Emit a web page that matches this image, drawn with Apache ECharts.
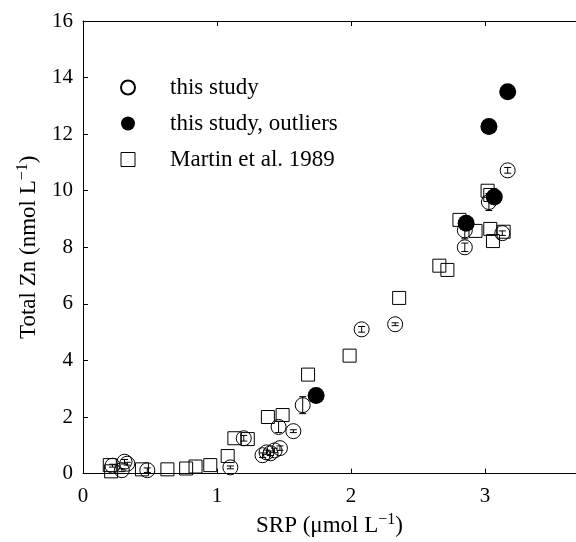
<!DOCTYPE html>
<html>
<head>
<meta charset="utf-8">
<script src="https://cdn.jsdelivr.net/npm/echarts@6/dist/echarts.min.js"></script>
<style>html,body{margin:0;padding:0;background:#fff}#c{width:576px;height:542px}</style>
</head>
<body>
<div id="c"></div>
<script>
// this study (open circles) with error values
var studyX   = [0.22, 0.29, 0.31, 0.33, 0.48, 1.10, 1.20, 1.34, 1.37, 1.40, 1.43, 1.47, 1.46, 1.57, 1.64, 2.08, 2.33, 2.85, 2.85, 3.03, 3.13, 3.17];
var studyY   = [0.28, 0.12, 0.42, 0.35, 0.12, 0.22, 1.25, 0.65, 0.75, 0.72, 0.82, 0.90, 1.65, 1.50, 2.42, 5.10, 5.28, 8.00, 8.60, 9.60, 8.50, 10.72];
var studyErr = [0.05, 0.05, 0.08, 0.05, 0.08, 0.05, 0.10, 0.08, 0.08, 0.08, 0.08, 0.08, 0.20, 0.05, 0.30, 0.10, 0.05, 0.15, 0.30, 0.30, 0.08, 0.10];
// this study, outliers (filled circles)
var outX = [1.74, 2.86, 3.03, 3.07, 3.17];
var outY = [2.76, 8.85, 12.27, 9.78, 13.50];
// Martin et al. 1989 (squares)
var martinX = [0.20, 0.21, 0.44, 0.63, 0.77, 0.84, 0.95, 1.08, 1.13, 1.23, 1.38, 1.49, 1.68, 1.99, 2.36, 2.66, 2.72, 2.81, 2.93, 3.02, 3.04, 3.04, 3.06, 3.14];
var martinY = [0.30, 0.08, 0.15, 0.15, 0.18, 0.25, 0.30, 0.62, 1.25, 1.22, 2.00, 2.07, 3.50, 4.17, 6.21, 7.35, 7.20, 8.97, 8.58, 10.00, 9.85, 8.65, 8.22, 8.55];
var xRange = [0, 3.68];   // visible part of the x axis (figure is cropped at the right)
var yTicks = [0, 2, 4, 6, 8, 10, 12, 14, 16];

function zip() {
  var a = arguments, out = [];
  for (var i = 0; i < a[0].length; i++) {
    var row = [];
    for (var j = 0; j < a.length; j++) row.push(a[j][i]);
    out.push(row);
  }
  return out;
}

var FONT = 'Liberation Serif';
var chart = echarts.init(document.getElementById('c'), null, {renderer: 'canvas'});
var axisCommon = {
  axisLine: {show: true, lineStyle: {color: '#000', width: 1}},
  axisTick: {show: true, inside: true, length: 5, lineStyle: {color: '#000'}},
  splitLine: {show: false}
};
var rich = {
  n: {fontFamily: FONT, fontSize: 23, color: '#000'},
  s: {fontFamily: FONT, fontSize: 16, color: '#000', verticalAlign: 'top', padding: [0, 0, 12, 0]}
};
chart.setOption({
  animation: false,
  backgroundColor: '#fff',
  grid: {left: 83, right: 0, top: 21, bottom: 64, containLabel: false},
  legend: {
    orient: 'vertical', left: 115, top: 71, itemWidth: 14, itemHeight: 14, itemGap: 13,
    textStyle: {fontFamily: FONT, fontSize: 23, color: '#000', padding: [0, 0, 0, 30]},
    data: [
      {name: 'this study'},
      {name: 'this study, outliers'},
      {name: 'Martin et al. 1989', itemStyle: {borderWidth: 1}, icon: 'path://M2,2L12,2L12,12L2,12Z'}
    ]
  },
  xAxis: [
    Object.assign({
      type: 'value', min: xRange[0], max: xRange[1], interval: 1, position: 'bottom',
      axisLabel: {fontFamily: FONT, fontSize: 21, color: '#000', margin: 12, showMaxLabel: false},
      name: '{n|SRP (\u03bcmol L}{s|\u22121}{n|)}', nameLocation: 'middle', nameGap: 36,
      nameTextStyle: {rich: rich}
    }, axisCommon),
    Object.assign({
      type: 'value', min: xRange[0], max: xRange[1], interval: 1, position: 'top',
      axisLabel: {show: false}
    }, axisCommon)
  ],
  yAxis: Object.assign({
    type: 'value', min: yTicks[0], max: yTicks[yTicks.length - 1], interval: 2,
    axisLabel: {fontFamily: FONT, fontSize: 21, color: '#000', margin: 10},
    name: '{n|Total Zn (nmol L}{s|\u22121}{n|)}', nameLocation: 'middle', nameGap: 40,
    nameTextStyle: {rich: rich}
  }, axisCommon),
  series: [
    {
      name: 'Martin et al. 1989', type: 'scatter', symbol: 'rect', symbolSize: 13, z: 2,
      itemStyle: {color: 'rgba(255,255,255,0)', borderColor: '#000', borderWidth: 1, opacity: 1},
      data: zip(martinX, martinY)
    },
    {
      name: 'this study', type: 'scatter', symbol: 'circle', symbolSize: 15, z: 3,
      itemStyle: {color: 'rgba(255,255,255,0)', borderColor: '#000', borderWidth: 1, opacity: 1},
      data: zip(studyX, studyY)
    },
    {
      name: 'errors', type: 'custom', z: 4, silent: true,
      renderItem: function (params, api) {
        var x = api.value(0), y = api.value(1), e = api.value(2);
        var lo = api.coord([x, y - e]), hi = api.coord([x, y + e]);
        var w = 3.5;
        var st = {stroke: '#000', lineWidth: 1};
        return {type: 'group', children: [
          {type: 'line', shape: {x1: lo[0], y1: lo[1], x2: hi[0], y2: hi[1]}, style: st},
          {type: 'line', shape: {x1: lo[0] - w, y1: lo[1], x2: lo[0] + w, y2: lo[1]}, style: st},
          {type: 'line', shape: {x1: hi[0] - w, y1: hi[1], x2: hi[0] + w, y2: hi[1]}, style: st}
        ]};
      },
      encode: {x: 0, y: 1},
      data: zip(studyX, studyY, studyErr)
    },
    {
      name: 'this study, outliers', type: 'scatter', symbol: 'circle', symbolSize: 17, z: 5,
      itemStyle: {color: '#000', borderColor: '#000', borderWidth: 0, opacity: 1},
      data: zip(outX, outY)
    }
  ]
});
</script>
</body>
</html>
